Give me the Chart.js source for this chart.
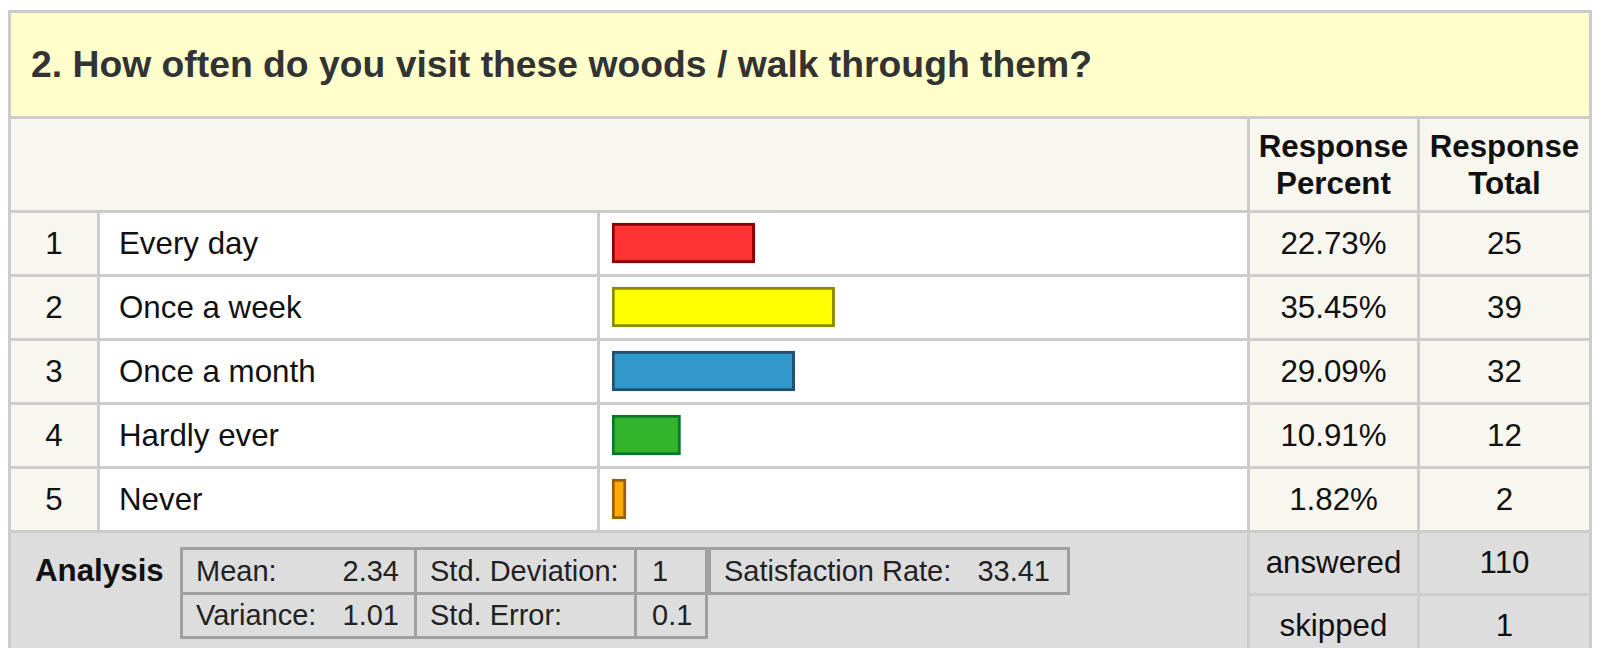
<!DOCTYPE html>
<html>
<head>
<meta charset="utf-8">
<script src="https://cdn.jsdelivr.net/npm/chart.js@4.4.1/dist/chart.umd.min.js"></script>
<style>
  html, body {
    margin: 0;
    width: 1598px;
    height: 648px;
    overflow: hidden;
    background: #fff;
    font-family: "Liberation Sans", Arial, sans-serif;
    color: #111;
  }
  #survey {
    position: absolute;
    left: 8px;
    top: 10px;
    display: grid;
    grid-template-columns: 86px 497px 647px 167px 169px;
    grid-template-rows: 103px 91px 61px 61px 61px 61px 61px 60px 60px;
    gap: 3px;
    padding: 3px;
    background: #cccccc;
    font-size: 31.3px;
  }
  .cell {
    display: flex;
    align-items: center;
    justify-content: center;
    background: #f7f7ef;
  }
  .title {
    grid-column: 1 / 6;
    background: #ffffcc;
    justify-content: flex-start;
    padding-left: 20px;
    font-weight: bold;
    font-size: 37.3px;
    color: #333;
  }
  .head { grid-column: 1 / 4; }
  .colhead { font-weight: bold; text-align: center; line-height: 37px; }
  .label { background: #fff; justify-content: flex-start; padding-left: 19px; }
  .barcell { background: #fff; }
  .foot { background: #dddddd; }
  .analysis {
    grid-column: 1 / 4;
    grid-row: 8 / 10;
    background: #dddddd;
    position: relative;
    display: block;
  }
  .analysis .name {
    position: absolute;
    left: 24px;
    top: 17px;
    height: 42px;
    line-height: 42px;
    font-weight: bold;
  }
  #stats {
    position: absolute;
    left: 169px;
    top: 14px;
    display: grid;
    grid-template-columns: 231px 217px 68px;
    grid-template-rows: 42px 41px;
    gap: 3px;
    padding: 3px;
    background: #a0a0a0;
    font-size: 29px;
    color: #222;
  }
  #stats div {
    background: #dddddd;
    display: flex;
    align-items: center;
    justify-content: space-between;
    padding: 0 15px 0 13px;
  }
  #stats div.num { padding: 0 0 0 15px; }
  #satisfaction {
    position: absolute;
    left: 697px;
    top: 14px;
    width: 326px;
    height: 42px;
    border: 3px solid #a0a0a0;
    background: #dddddd;
    font-size: 29px;
    color: #222;
    display: flex;
    align-items: center;
    justify-content: space-between;
    padding: 0 17px 0 13px;
  }
  #barChart {
    position: absolute;
    left: 600px;
    top: 211px;
    pointer-events: none;
  }
</style>
</head>
<body>
<div id="survey"></div>
<canvas id="barChart" width="647" height="320"></canvas>
<script>
const questionTitle = "2. How often do you visit these woods / walk through them?";
const headers = ["Response<br>Percent", "Response<br>Total"];
const categories = ["Every day", "Once a week", "Once a month", "Hardly ever", "Never"];
const percents = [22.73, 35.45, 29.09, 10.91, 1.82];
const totals = [25, 39, 32, 12, 2];
const fillColors = ["#ff3333", "#ffff00", "#3399cc", "#33b42d", "#ffaa00"];
const edgeColors = ["#8b0000", "#8b8b00", "#1f5270", "#0a7a28", "#9a6000"];
const statLabels = ["Mean:", "Std. Deviation:", "Variance:", "Std. Error:"];
const statValues = ["2.34", "1", "1.01", "0.1"];
const satisfactionLabel = "Satisfaction Rate:";
const satisfactionValue = "33.41";
const footLabels = ["answered", "skipped"];
const footValues = [110, 1];

const survey = document.getElementById("survey");
let html = `<div class="cell title">${questionTitle}</div>`;
html += `<div class="cell head"></div>`;
html += `<div class="cell colhead">${headers[0]}</div><div class="cell colhead">${headers[1]}</div>`;
for (let i = 0; i < categories.length; i++) {
  html += `<div class="cell">${i + 1}</div>`;
  html += `<div class="cell label">${categories[i]}</div>`;
  html += `<div class="cell barcell"></div>`;
  html += `<div class="cell">${percents[i].toFixed(2)}%</div>`;
  html += `<div class="cell">${totals[i]}</div>`;
}
html += `<div class="analysis">
  <div class="name">Analysis</div>
  <div id="stats">
    <div><span>${statLabels[0]}</span><span>${statValues[0]}</span></div>
    <div><span>${statLabels[1]}</span></div>
    <div class="num"><span>${statValues[1]}</span></div>
    <div><span>${statLabels[2]}</span><span>${statValues[2]}</span></div>
    <div><span>${statLabels[3]}</span></div>
    <div class="num"><span>${statValues[3]}</span></div>
  </div>
  <div id="satisfaction"><span>${satisfactionLabel}</span><span>${satisfactionValue}</span></div>
</div>`;
for (let i = 0; i < footLabels.length; i++) {
  html += `<div class="cell foot">${footLabels[i]}</div><div class="cell foot">${footValues[i]}</div>`;
}
survey.innerHTML = html;

const chartData = {
  labels: categories,
  datasets: [
    {
      data: percents,
      backgroundColor: fillColors,
      borderColor: edgeColors,
      borderWidth: 3,
      borderSkipped: false,
      barThickness: 40,
      minBarLength: 14,
    },
  ],
};
const config = {
  type: "bar",
  data: chartData,
  options: {
    indexAxis: "y",
    responsive: false,
    animation: false,
    layout: { padding: { left: 12, right: 7, top: 0, bottom: 0 } },
    plugins: { legend: { display: false }, tooltip: { enabled: false } },
    scales: {
      x: { display: false, min: 0, max: 100 },
      y: { display: false },
    },
  },
};
const myChart = new Chart(document.getElementById("barChart"), config);
</script>
</body>
</html>
